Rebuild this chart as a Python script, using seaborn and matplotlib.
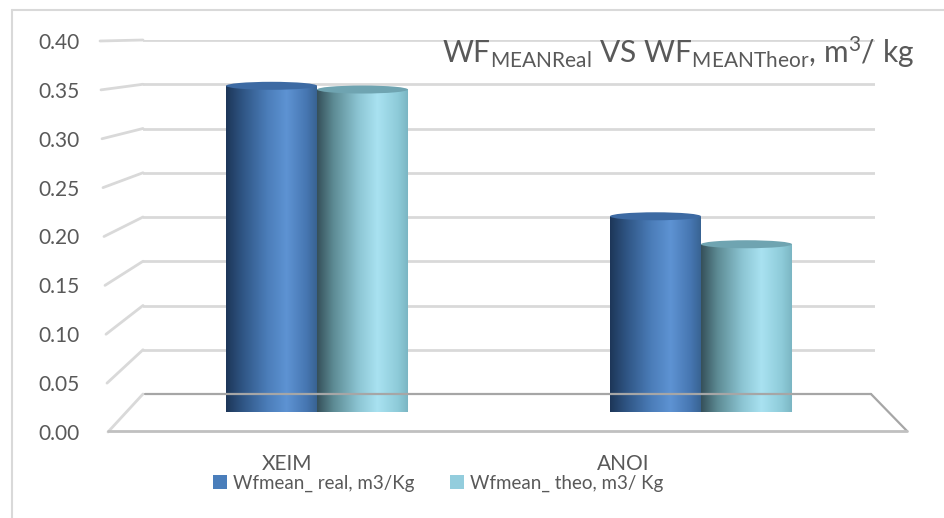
import numpy as np
import pandas as pd
import matplotlib
matplotlib.use("Agg")
import matplotlib.pyplot as plt
import seaborn as sns
from matplotlib.colors import LinearSegmentedColormap
from matplotlib.patches import Polygon, Ellipse, Rectangle
from matplotlib.lines import Line2D

# ---- data -------------------------------------------------------------
sites = ["XEIM", "ANOI"]
wf_real = [0.350, 0.210]
wf_theo = [0.346, 0.180]
series_names = ["Wfmean_ real, m3/Kg", "Wfmean_ theo, m3/ Kg"]
y_ticks = [0.00, 0.05, 0.10, 0.15, 0.20, 0.25, 0.30, 0.35, 0.40]
title_text = r"WF$_{MEANReal}$ VS WF$_{MEANTheor}$, m$^{3}$/ kg"

# ---- style ------------------------------------------------------------
sns.set_style("white")
plt.rcParams["font.family"] = ["Lato", "DejaVu Sans"]
plt.rcParams["mathtext.default"] = "regular"
TXT = "#595959"
GRID = "#d9d9d9"

W, H = 945, 518
fig = plt.figure(figsize=(W / 100, H / 100), dpi=100)
fig.patch.set_facecolor("white")


def fx(px):
    return px / W


def fy(py):
    return 1 - py / H


# chart-area frame (left and top edges)
fig.add_artist(Line2D([fx(12), fx(12)], [fy(10), 0], color=GRID, lw=1.5))
fig.add_artist(Line2D([fx(12), 1], [fy(10), fy(10)], color=GRID, lw=1.5))

# back wall: horizontal gridlines
ax_back = fig.add_axes([fx(143), fy(394), (875 - 143) / W, (394 - 40) / H])
ax_back.set_xlim(0, 1)
ax_back.set_ylim(0, 0.4)
ax_back.axis("off")
for v in y_ticks[1:]:
    ax_back.axhline(v, color=GRID, lw=2, solid_capstyle="round")

# front plane: value axis labels and category labels
ax_front = fig.add_axes([fx(100), fy(432), (908 - 100) / W, (432 - 41) / H])
ax_front.set_ylim(0, 0.4)
ax_front.set_xlim(-0.557, 1.849)
ax_front.patch.set_alpha(0)
for s in ax_front.spines.values():
    s.set_visible(False)
ax_front.set_yticks(y_ticks)
ax_front.set_yticklabels([f"{v:.2f}" for v in y_ticks])
ax_front.set_xticks(range(len(sites)))
ax_front.set_xticklabels(sites)
ax_front.tick_params(axis="y", length=0, pad=14.4, labelsize=15, labelcolor=TXT)
ax_front.tick_params(axis="x", length=0, pad=16, labelsize=15, labelcolor=TXT)

# side wall: slanted segments joining the labels to the back wall
to_fig = fig.transFigure.inverted()
for v in y_ticks:
    _, yf = ax_front.transData.transform((0, v))
    _, yb = ax_back.transData.transform((0, v))
    xb, _ = ax_back.transAxes.transform((0, 0))
    xf = 108 - 8 * v / 0.4
    p0 = to_fig.transform((xf, yf))
    p1 = to_fig.transform((xb, yb))
    fig.add_artist(Line2D([p0[0], p1[0]], [p0[1], p1[1]], color=GRID, lw=2,
                          solid_capstyle="round"))

# floor outline
fig.add_artist(Line2D([fx(145), fx(871)], [fy(394), fy(394)], color="#a6a6a6", lw=1.6))
fig.add_artist(Line2D([fx(871), fx(907)], [fy(394), fy(431)], color="#a6a6a6", lw=1.6))
fig.add_artist(Line2D([fx(108), fx(907)], [fy(431), fy(431)], color="#c0c0c0", lw=2))

# ---- bars (mid-depth plane) -------------------------------------------
bar_h_px = 372.8
ax_bar = fig.add_axes([fx(125), fy(412), 768 / W, bar_h_px / H])
ax_bar.patch.set_alpha(0)

df = pd.DataFrame({
    "site": sites * 2,
    "series": [series_names[0]] * len(sites) + [series_names[1]] * len(sites),
    "value": wf_real + wf_theo,
})
legend_colors = ["#4a7ebb", "#93cddd"]
sns.barplot(data=df, x="site", y="value", hue="series", palette=legend_colors,
            width=0.474, ax=ax_bar, legend=False)

cmap_real = LinearSegmentedColormap.from_list("real", [
    (0.0, "#1d3658"), (0.18, "#2f5584"), (0.45, "#4b7db9"),
    (0.66, "#5e93d3"), (0.88, "#4676b1"), (1.0, "#37618f")])
cmap_theo = LinearSegmentedColormap.from_list("theo", [
    (0.0, "#35505a"), (0.18, "#5d8b94"), (0.45, "#8cc5d3"),
    (0.66, "#a9e2f1"), (0.88, "#8ecbd9"), (1.0, "#79b4c1")])
top_colors = ["#3d6aa3", "#6fa4b1"]

px_y = 0.4 / bar_h_px
eb = 6 * px_y   # bottom cap half-height
et = 4 * px_y   # top cap half-height
grad = np.linspace(0, 1, 256).reshape(1, -1)
t = np.linspace(0, np.pi, 80)

for k, (container, cmap, top_col) in enumerate(
        zip(ax_bar.containers, [cmap_real, cmap_theo], top_colors)):
    z = 6 - k
    for bar in container:
        x0, w, h = bar.get_x(), bar.get_width(), bar.get_height()
        xc = x0 + w / 2
        bar.set_visible(False)
        arc = list(zip(xc + (w / 2) * np.cos(t), -eb * np.sin(t)))
        clip = Polygon([(x0, h), (x0 + w, h)] + arc, closed=True,
                       transform=ax_bar.transData, facecolor="none",
                       edgecolor="none")
        ax_bar.add_patch(clip)
        im = ax_bar.imshow(grad, cmap=cmap, extent=[x0, x0 + w, -eb, h],
                           aspect="auto", interpolation="bicubic", zorder=z)
        im.set_clip_path(clip)
        ax_bar.add_patch(Ellipse((xc, h), w, 2 * et, facecolor=top_col,
                                 edgecolor="none", zorder=z + 0.5))

ax_bar.set_xlim(-0.5, 1.5)
ax_bar.set_ylim(0, 0.4)
ax_bar.axis("off")

# ---- title and legend -------------------------------------------------
fig.text(fx(442), fy(63), title_text, fontsize=21.5, color=TXT,
         ha="left", va="baseline")

handles = [Rectangle((0, 0), 1, 1, facecolor=c, edgecolor="none")
           for c in legend_colors]
fig.legend(handles, series_names, loc="center",
           bbox_to_anchor=(fx(438), fy(483)), ncol=2, frameon=False,
           fontsize=13.5, labelcolor=TXT, handlelength=0.75, handleheight=0.75,
           handletextpad=0.3, columnspacing=1.9)

fig.savefig("out.png", dpi=100, facecolor="white")
